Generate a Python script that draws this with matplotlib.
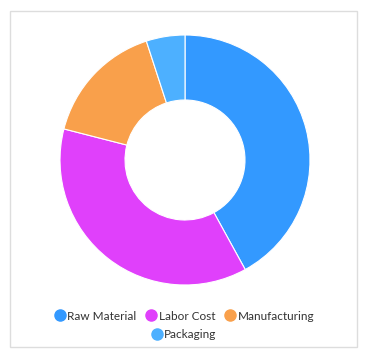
import matplotlib
matplotlib.use("Agg")
import matplotlib.pyplot as plt
from matplotlib.patches import Rectangle
from matplotlib.lines import Line2D

categories = ["Raw Material", "Labor Cost", "Manufacturing", "Packaging"]
values = [42, 37, 16, 5]
colors = ["#3399FF", "#E040FB", "#F9A04B", "#4DB0FF"]

plt.rcParams['font.family'] = ['Lato', 'DejaVu Sans']

W, H = 370, 360
fig = plt.figure(figsize=(W / 100, H / 100), dpi=100)
fig.patch.set_facecolor("white")

# frame
fig.patches.append(Rectangle((10 / W, 1 - 347 / H), 347 / W, 336 / H,
                             transform=fig.transFigure, fill=False,
                             edgecolor="#dddddd", linewidth=1))

cx, cy, R = 185, 160, 125
ax = fig.add_axes([(cx - R) / W, (H - cy - R) / H, 2 * R / W, 2 * R / H])
ax.pie(values, colors=colors, startangle=90, counterclock=False,
       radius=1, wedgeprops=dict(width=0.52, edgecolor="white", linewidth=0.8))
ax.set_xlim(-1, 1)
ax.set_ylim(-1, 1)
ax.axis("off")

def handle(c):
    return Line2D([], [], marker="o", linestyle="", markersize=8,
                  markerfacecolor=c, markeredgecolor=c)

leg1 = fig.legend([handle(c) for c in colors[:3]], categories[:3],
                  loc="center", bbox_to_anchor=(184 / W, 1 - 316 / H),
                  ncol=3, frameon=False, fontsize=8.5, handletextpad=0.1,
                  columnspacing=0.8, handlelength=1.0)
leg2 = fig.legend([handle(colors[3])], categories[3:],
                  loc="center", bbox_to_anchor=(184 / W, 1 - 335 / H),
                  ncol=1, frameon=False, fontsize=8.5, handletextpad=0.1,
                  handlelength=1.0)
for leg in (leg1, leg2):
    for t in leg.get_texts():
        t.set_color("#333333")

fig.savefig("out.png", dpi=100, facecolor="white")
